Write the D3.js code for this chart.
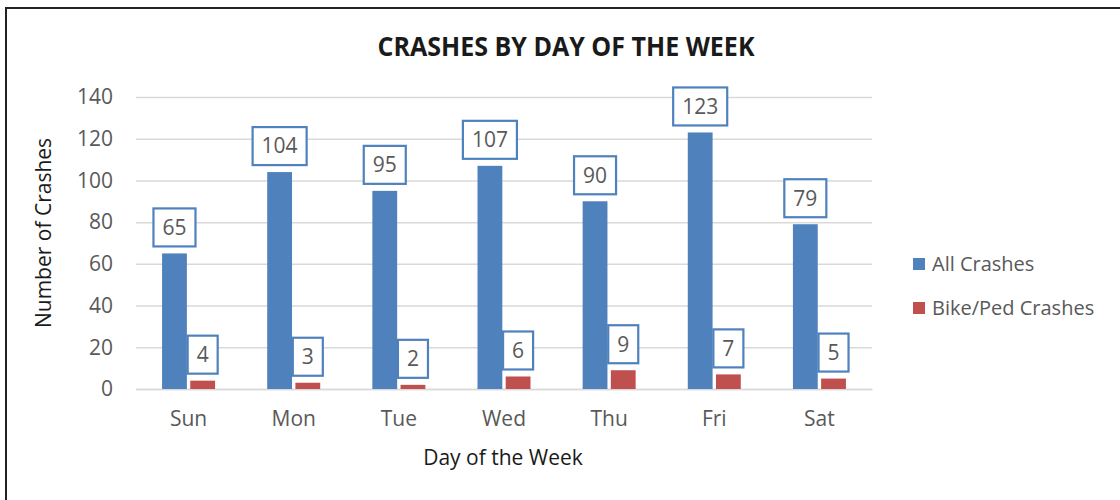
<!DOCTYPE html>
<html lang="en">
<head>
    <meta charset="UTF-8">
    <title>Crashes by Day of the Week</title>
    <script src="https://d3js.org/d3.v7.min.js"></script>
    <style>
        html, body { margin: 0; padding: 0; background: #fff; }
        svg { display: block; font-family: "Open Sans", "Noto Sans", sans-serif; }
    </style>
</head>
<body>
    <div id="chart"></div>

    <script>
        // Données
        const days = ["Sun", "Mon", "Tue", "Wed", "Thu", "Fri", "Sat"];
        const allCrashes = [65, 104, 95, 107, 90, 123, 79];
        const bikePedCrashes = [4, 3, 2, 6, 9, 7, 5];
        const seriesNames = ["All Crashes", "Bike/Ped Crashes"];
        const yTicks = [0, 20, 40, 60, 80, 100, 120, 140];

        const colors = ["#4F81BD", "#C0504D"];
        const series = [allCrashes, bikePedCrashes];

        const W = 1120, H = 500;
        const margin = { top: 97, right: 248, bottom: 111, left: 136 };
        const width = W - margin.left - margin.right;
        const height = H - margin.top - margin.bottom;

        const svg = d3.select("#chart").append("svg")
            .attr("width", W)
            .attr("height", H);

        // Cadre
        svg.append("rect")
            .attr("x", 6).attr("y", 8)
            .attr("width", 1300).attr("height", 700)
            .attr("fill", "none")
            .attr("stroke", "#222")
            .attr("stroke-width", 2);

        const chart = svg.append("g")
            .attr("transform", `translate(${margin.left},${margin.top})`);

        // Échelles
        const x = d3.scaleBand()
            .domain(days)
            .range([0, width])
            .padding(0);

        const xInner = d3.scaleBand()
            .domain(seriesNames)
            .range([x.bandwidth() / 2 - 26.5, x.bandwidth() / 2 + 26.5])
            .paddingInner(0.12);

        const y = d3.scaleLinear()
            .domain([0, 140])
            .range([height, 0]);

        // Grille
        chart.append("g")
            .call(d3.axisLeft(y).tickValues(yTicks).tickSize(-width).tickFormat(""))
            .call(g => g.select(".domain").remove())
            .call(g => g.selectAll("line").attr("stroke", "#d9d9d9").attr("stroke-width", 1.5));

        // Axe Y
        chart.append("g")
            .call(d3.axisLeft(y).tickValues(yTicks).tickSize(0).tickPadding(23))
            .call(g => g.select(".domain").remove())
            .call(g => g.selectAll("text")
                .attr("fill", "#595959")
                .style("font-size", "21px")
                .style("font-family", "'Open Sans', sans-serif"));

        // Axe X
        chart.append("g")
            .attr("transform", `translate(0,${height})`)
            .call(d3.axisBottom(x).tickSize(0).tickPadding(22))
            .call(g => g.select(".domain").attr("stroke", "#d9d9d9").attr("stroke-width", 1.5))
            .call(g => g.selectAll("text")
                .attr("fill", "#595959")
                .style("font-size", "21px")
                .style("font-family", "'Open Sans', sans-serif"));

        // Barres et étiquettes
        series.forEach((values, si) => {
            const name = seriesNames[si];
            const groups = chart.append("g").selectAll("g")
                .data(values)
                .enter()
                .append("g")
                .attr("transform", (d, i) => `translate(${x(days[i]) + xInner(name)},0)`);

            groups.append("rect")
                .attr("x", 0)
                .attr("y", d => y(d))
                .attr("width", xInner.bandwidth())
                .attr("height", d => height - y(d))
                .attr("fill", colors[si]);

            groups.each(function (d) {
                const g = d3.select(this);
                const cx = xInner.bandwidth() / 2;
                const boxBottom = y(d) - 7;
                const boxH = 38;
                const box = g.append("rect")
                    .attr("fill", "#fff")
                    .attr("stroke", "#4F81BD")
                    .attr("stroke-width", 2.2);
                const t = g.append("text")
                    .attr("x", cx)
                    .attr("y", boxBottom - boxH / 2)
                    .attr("dy", "0.35em")
                    .attr("text-anchor", "middle")
                    .attr("fill", "#595959")
                    .style("font-size", "21px")
                    .text(d);
                const bw = t.node().getBBox().width + 18;
                box.attr("x", cx - bw / 2)
                    .attr("y", boxBottom - boxH)
                    .attr("width", bw)
                    .attr("height", boxH);
            });
        });

        // Titre
        svg.append("text")
            .attr("x", 566)
            .attr("y", 47)
            .attr("dy", "0.35em")
            .attr("text-anchor", "middle")
            .attr("fill", "#1a1a1a")
            .style("font-size", "26px")
            .style("font-weight", "bold")
            .attr("textLength", 377)
            .attr("lengthAdjust", "spacingAndGlyphs")
            .text("CRASHES BY DAY OF THE WEEK");

        // Titres des axes
        svg.append("text")
            .attr("transform", "translate(44,233) rotate(-90)")
            .attr("dy", "0.35em")
            .attr("text-anchor", "middle")
            .attr("fill", "#1a1a1a")
            .style("font-size", "21px")
            .text("Number of Crashes");

        svg.append("text")
            .attr("x", 503)
            .attr("y", 458)
            .attr("dy", "0.35em")
            .attr("text-anchor", "middle")
            .attr("fill", "#1a1a1a")
            .style("font-size", "21px")
            .text("Day of the Week");

        // Légende
        const legend = svg.append("g")
            .attr("transform", "translate(913,0)");

        seriesNames.forEach((name, i) => {
            const ly = 264 + i * 44;
            legend.append("rect")
                .attr("x", 0)
                .attr("y", ly - 6)
                .attr("width", 12)
                .attr("height", 12)
                .attr("fill", colors[i]);
            legend.append("text")
                .attr("x", 19)
                .attr("y", ly)
                .attr("dy", "0.35em")
                .attr("fill", "#595959")
                .style("font-size", "20px")
                .text(name);
        });
    </script>
</body>
</html>
